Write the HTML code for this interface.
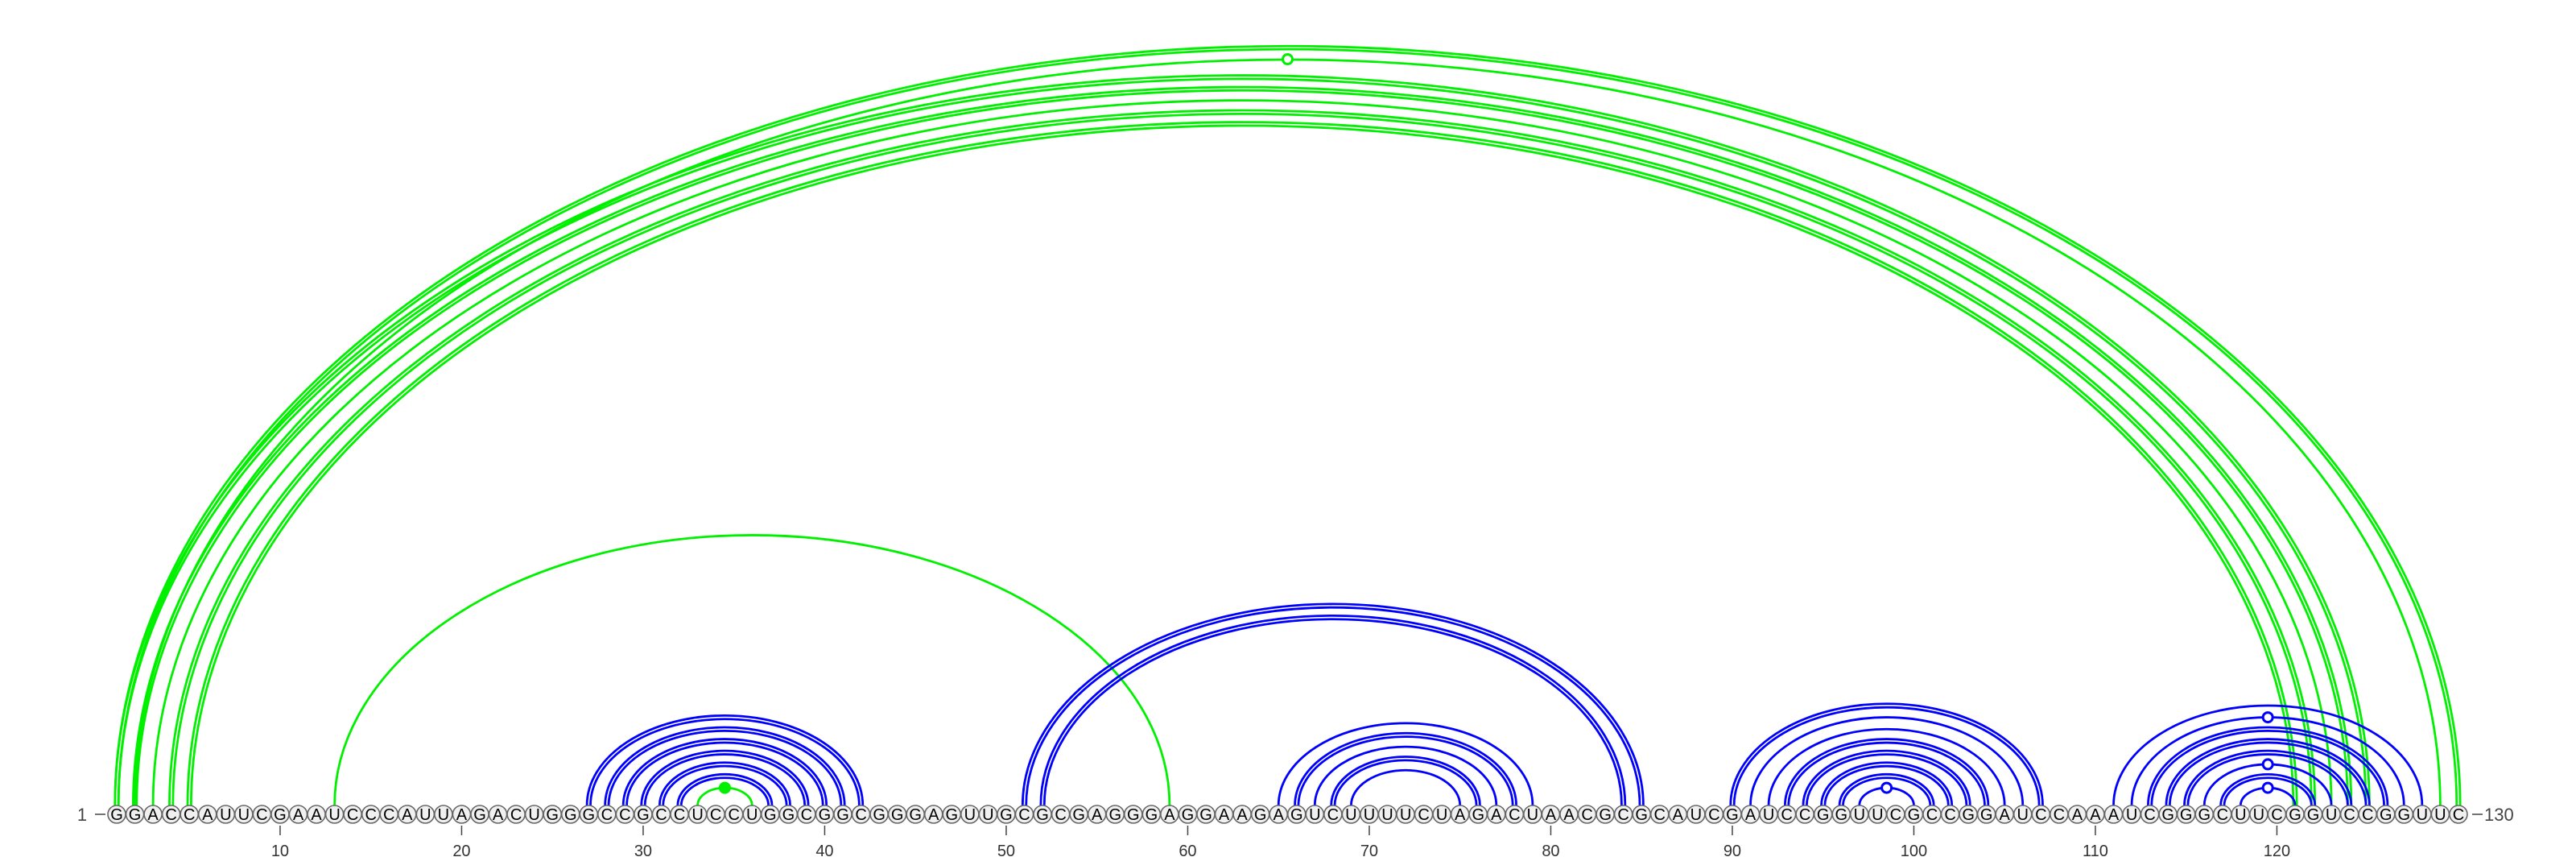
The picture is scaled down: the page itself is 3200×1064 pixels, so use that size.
<!DOCTYPE html>
<html><head><meta charset="utf-8"><style>
html,body{margin:0;padding:0;background:#fff;}
svg{display:block;}
</style></head><body>
<svg id="chart" width="3200" height="1064" viewBox="0 0 3200 1064" xmlns="http://www.w3.org/2000/svg">
<g id="arcs"></g>
<g id="nts"></g>
<g id="axis"></g>
</svg>
<script>
const sequence = "GGACCAUUCGAAUCCCAUUAGACUGGGCCGCCUCCUGGCGGCGGGAGUUGCGCGAGGGAGGAAGAGUCUUUUCUAGACUAACGCGCAUCGAUCCGGUUCGCCGGAUCCAAAUCGGGCUUCGGUCCGGUUC";
// blue pairs: [i, j, double(1/0), marker(1/0)]
const bluePairs = [
 [27,42,1,0],[28,41,1,0],[29,40,1,0],[30,39,1,0],[31,38,1,0],[32,37,1,0],
 [51,85,1,0],[52,84,1,0],
 [65,79,0,0],[66,78,1,0],[67,77,0,0],[68,76,1,0],[69,75,0,0],
 [90,107,1,0],[91,106,0,0],[92,105,0,0],[93,104,1,0],[94,103,1,0],[95,102,1,0],[96,101,1,0],[97,100,0,1],
 [111,128,0,0],[112,127,0,1],[113,126,1,0],[114,125,1,0],[115,124,1,0],[116,123,0,1],[117,122,1,0],[118,121,0,1]
];
// green pairs: [i, j, double, marker (1 open, 2 filled)]
const greenPairs = [
 [1,130,1,0],[2,129,0,1],[1,125,1,0],[2,124,1,0],[3,123,0,0],[4,122,1,0],[5,121,1,0],
 [13,59,0,0],[33,36,0,2]
];
const tickPositions = [10,20,30,40,50,60,70,80,90,100,110,120];

const NS = "http://www.w3.org/2000/svg";
const X0 = 145, PITCH = 22.55, BASE = 1000, RATIO = 0.647, NY = 1011;
function xPos(i){ return X0 + (i-1)*PITCH; }
function mk(tag, attrs, parent){ const e=document.createElementNS(NS,tag); for(const k in attrs) e.setAttribute(k,attrs[k]); parent.appendChild(e); return e; }
const arcs=document.getElementById('arcs'), nts=document.getElementById('nts'), axis=document.getElementById('axis');

function drawArc(p, color){
  const a=xPos(p[0]), b=xPos(p[1]), rx=(b-a)/2, ry=rx*RATIO;
  const offs = p[2] ? [-2.2,2.2] : [0];
  offs.forEach(o=>{
    const path = mk('path',{d:`M ${a-o} ${BASE} A ${rx+o} ${ry+o} 0 0 1 ${b+o} ${BASE}`, fill:'none', stroke:color, 'stroke-width':2.8}, arcs);
    
    
  });
  if(p[3]){
    const c = mk('circle',{cx:(a+b)/2, cy:BASE-ry, r:6, fill:p[3]===2?color:'#fff', stroke:color, 'stroke-width':3}, arcs);
    
    
  }
}
greenPairs.forEach(p=>drawArc(p,'#00f000'));
bluePairs.forEach(p=>drawArc(p,'#0000ff'));

for(let i=1;i<=sequence.length;i++){
  const x=xPos(i);
  const c=mk('circle',{cx:x, cy:NY, r:11, fill:'#f0f0f0', stroke:'#666', 'stroke-width':1.6}, nts);
  
  
  const t=mk('text',{x:x, y:NY+7, 'text-anchor':'middle', 'font-family':'Liberation Sans, sans-serif', 'font-size':20, fill:'#000'}, nts);
  t.textContent=sequence[i-1];
  
  
}
tickPositions.forEach(v=>{
  const x=xPos(v);
  const l=mk('line',{x1:x,x2:x,y1:1025,y2:1037,stroke:'#444','stroke-width':1.5}, axis);
  
  
  const t=mk('text',{x:x,y:1063,'text-anchor':'middle','font-family':'Liberation Sans, sans-serif','font-size':20,fill:'#333'}, axis);
  t.textContent=String(v);
  
  
});
const s=mk('text',{x:102,y:1019,'text-anchor':'middle','font-family':'Liberation Sans, sans-serif','font-size':22,fill:'#444'}, axis);
s.textContent='1';


const sl=mk('line',{x1:118,x2:131,y1:1011,y2:1011,stroke:'#444','stroke-width':1.5}, axis);


const el=mk('line',{x1:3071,x2:3084,y1:1011,y2:1011,stroke:'#444','stroke-width':1.5}, axis);


const e=mk('text',{x:3086,y:1019,'font-family':'Liberation Sans, sans-serif','font-size':22,fill:'#444'}, axis);
e.textContent=String(sequence.length);


</script>
</body></html>
